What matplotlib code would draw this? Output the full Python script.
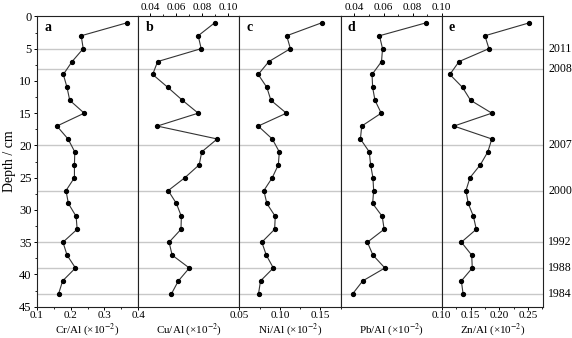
import matplotlib
matplotlib.use("Agg")
import matplotlib.pyplot as plt
import matplotlib.transforms as mtransforms
from matplotlib.ticker import MultipleLocator, FixedLocator

plt.rcParams['font.family'] = ['Liberation Serif', 'DejaVu Serif']
plt.rcParams['mathtext.fontset'] = 'stix'

depth = [1, 3, 5, 7, 9, 11, 13, 15, 17, 19, 21, 23, 25, 27, 29, 31, 33, 35, 37, 39, 41, 43]

cr_al = [0.366, 0.231, 0.237, 0.204, 0.178, 0.189, 0.197, 0.240, 0.159, 0.192, 0.212,
         0.211, 0.211, 0.186, 0.193, 0.216, 0.219, 0.177, 0.189, 0.214, 0.176, 0.164]
cu_al = [0.0895, 0.0769, 0.0792, 0.0458, 0.0420, 0.0536, 0.0648, 0.0769, 0.0455, 0.0915, 0.0796,
         0.0777, 0.0667, 0.0539, 0.0602, 0.0640, 0.0637, 0.0546, 0.0569, 0.0701, 0.0617, 0.0564]
ni_al = [0.1515, 0.1084, 0.1130, 0.0864, 0.0732, 0.0839, 0.0889, 0.1080, 0.0732, 0.0906, 0.0993,
         0.0981, 0.0906, 0.0802, 0.0839, 0.0943, 0.0935, 0.0777, 0.0832, 0.0919, 0.0761, 0.0736]
pb_al = [0.0891, 0.0572, 0.0593, 0.0586, 0.0521, 0.0525, 0.0541, 0.0584, 0.0450, 0.0441, 0.0502,
         0.0511, 0.0527, 0.0532, 0.0525, 0.0591, 0.0604, 0.0489, 0.0527, 0.0609, 0.0457, 0.0388]
zn_al = [0.252, 0.175, 0.182, 0.130, 0.114, 0.136, 0.150, 0.187, 0.121, 0.187, 0.180,
         0.167, 0.149, 0.142, 0.146, 0.155, 0.160, 0.134, 0.152, 0.153, 0.134, 0.137]

year_depths = [5, 8.2, 20, 27, 35, 39, 43]
year_labels = ['2011', '2008', '2007', '2000', '1992', '1988', '1984']

panel_letters = ['a', 'b', 'c', 'd', 'e']
xlabels = ['Cr/Al (×10$^{-2}$)', 'Cu/Al (×10$^{-2}$)', 'Ni/Al (×10$^{-2}$)',
           'Pb/Al (×10$^{-2}$)', 'Zn/Al (×10$^{-2}$)']
series = [cr_al, cu_al, ni_al, pb_al, zn_al]
xlims = [(0.1, 0.4), (0.0309, 0.1085), (0.05, 0.175), (0.0305, 0.1), (0.1, 0.276)]
major_ticks = [[0.1, 0.2, 0.3, 0.4], [0.04, 0.06, 0.08, 0.10], [0.05, 0.10, 0.15],
               [0.04, 0.06, 0.08, 0.10], [0.10, 0.15, 0.20, 0.25]]
tick_fmt = ['{:.1f}', '{:.2f}', '{:.2f}', '{:.2f}', '{:.2f}']
minor_step = [0.05, 0.01, 0.025, 0.01, 0.025]
top_axis = [False, True, False, True, False]

W, H = 572, 338
fig = plt.figure(figsize=(W / 100, H / 100), dpi=100)
left_px, right_px, top_px, bot_px = 37, 543, 16.4, 306.7
pw = (right_px - left_px) / 5

axes = []
for i in range(5):
    ax = fig.add_axes([(left_px + i * pw) / W, 1 - bot_px / H, pw / W, (bot_px - top_px) / H],
                      sharey=axes[0] if axes else None)
    axes.append(ax)
    for yd in year_depths:
        ax.axhline(yd, color='#c8c8c8', lw=1.0, zorder=1)
    ax.plot(series[i], depth, '-', color='#333333', lw=0.8, marker='o', ms=2.8,
            mfc='black', mec='black', zorder=3)
    ax.set_xlim(*xlims[i])
    for s in ax.spines.values():
        s.set_linewidth(0.8)
        s.set_color('#222222')
    ax.xaxis.set_major_locator(FixedLocator(major_ticks[i]))
    ax.set_xticklabels([tick_fmt[i].format(v) for v in major_ticks[i]])
    ax.xaxis.set_minor_locator(MultipleLocator(minor_step[i]))
    if top_axis[i]:
        ax.tick_params(axis='x', which='both', bottom=False, labelbottom=False,
                       top=True, labeltop=True, direction='out')
    else:
        ax.tick_params(axis='x', which='both', bottom=True, labelbottom=True,
                       top=False, labeltop=False, direction='out')
    ax.tick_params(axis='x', which='major', length=2.5, width=0.7, labelsize=8, pad=0.5)
    ax.tick_params(axis='x', which='minor', length=1.6, width=0.6)
    ax.set_xlabel(xlabels[i], fontsize=8)
    ax.text(0.07, 0.985, panel_letters[i], transform=ax.transAxes, fontsize=10,
            fontweight='bold', ha='left', va='top')
    if i > 0:
        ax.tick_params(axis='y', which='both', left=False, labelleft=False)

# place bottom x-labels at a fixed height so they stay inside the figure
for ax in axes:
    ax.xaxis.set_label_coords(0.5, -(329.5 - bot_px) / (bot_px - top_px), transform=ax.transAxes)
    ax.xaxis.label.set_va('center')

ax0 = axes[0]
ax0.set_ylim(45, 0)
ax0.yaxis.set_major_locator(MultipleLocator(5))
ax0.yaxis.set_minor_locator(MultipleLocator(2.5))
ax0.tick_params(axis='y', which='major', direction='out', length=2.5, width=0.7, labelsize=9, pad=1.5)
ax0.tick_params(axis='y', which='minor', direction='out', length=1.6, width=0.6)
ax0.set_ylabel('Depth / cm', fontsize=10, labelpad=2)

axe = axes[-1]
trans = mtransforms.blended_transform_factory(axe.transAxes, axe.transData)
for yd, lab in zip(year_depths, year_labels):
    axe.text(1.05, yd, lab, transform=trans, fontsize=8.5, ha='left', va='center')

fig.savefig('out.png', dpi=100)
